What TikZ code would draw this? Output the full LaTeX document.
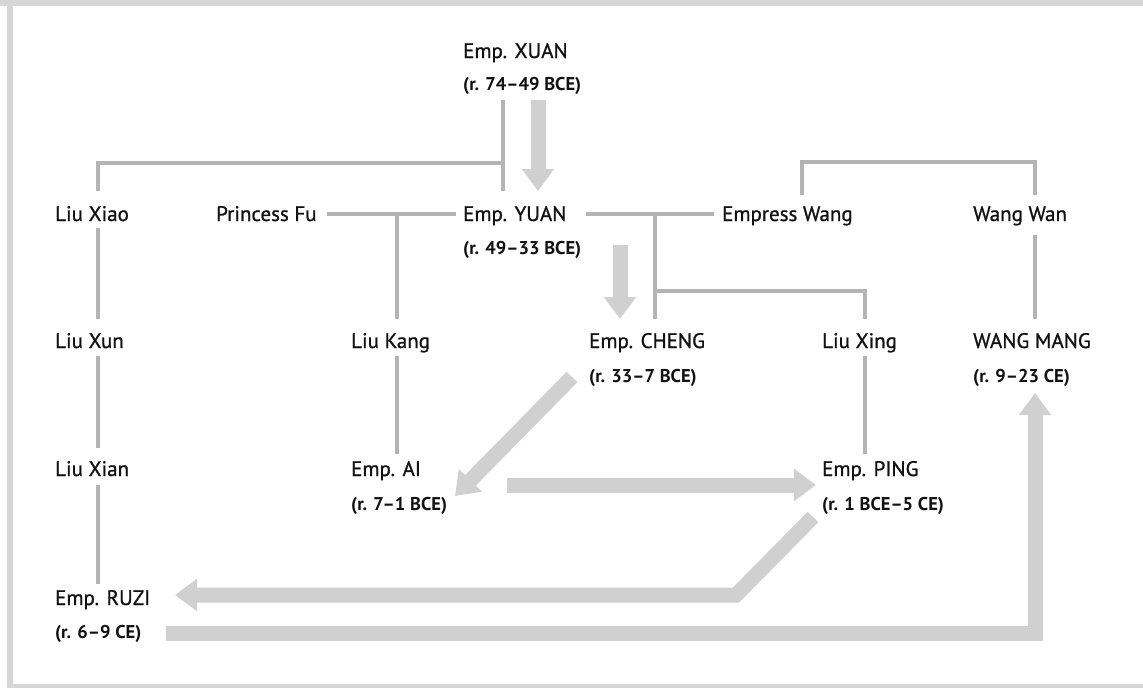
\documentclass[tikz,border=0pt]{standalone}
\usepackage{fontspec}
\setmainfont{PT Sans}
\newfontfamily\namefont{PT Sans}[FakeBold=0.9]
\newfontfamily\subfont{PT Sans Bold}
\usetikzlibrary{arrows.meta}
\definecolor{thinc}{HTML}{B4B4B4}
\definecolor{thickc}{HTML}{D0D0D0}
\definecolor{framec}{HTML}{D6D6D6}
\definecolor{txt}{HTML}{111111}
\tikzset{
  nm/.style={anchor=base west, inner sep=0pt, text=txt, font=\fontsize{21}{21}\namefont},
  sub/.style={anchor=base west, inner sep=0pt, text=txt, font=\fontsize{18.5}{18.5}\subfont},
  kin/.style={draw=thinc, line width=3.5pt},
  reign/.style={draw=thickc, line width=15pt, line join=miter, -{Triangle[width=31pt,length=22pt]}},
}
\begin{document}
\begin{tikzpicture}[x=1pt,y=-1pt]
\useasboundingbox (0,0) rectangle (1143,688);
% frame
\fill[framec] (0,0) rectangle (1143,6);
\fill[framec] (7,0) rectangle (13,688);
\fill[framec] (7,684) rectangle (1143,688);
% names
\node[nm] (xuan) at (463,58) {Emp. XUAN};
\node[sub] (xuanr) at (463,90) {(r. 74–49 BCE)};
\node[nm] (xiao) at (55,221) {Liu Xiao};
\node[nm] (fu) at (216,221) {Princess Fu};
\node[nm] (yuan) at (463,221) {Emp. YUAN};
\node[sub] (yuanr) at (463,254) {(r. 49–33 BCE)};
\node[nm] (wang) at (722,221) {Empress Wang};
\node[nm] (wan) at (973,221) {Wang Wan};
\node[nm] (xun) at (55,348) {Liu Xun};
\node[nm] (kang) at (351,348) {Liu Kang};
\node[nm] (cheng) at (589,348) {Emp. CHENG};
\node[sub] (chengr) at (589,382) {(r. 33–7 BCE)};
\node[nm] (xing) at (822,348) {Liu Xing};
\node[nm] (mang) at (973,348) {WANG MANG};
\node[sub] (mangr) at (973,382) {(r. 9–23 CE)};
\node[nm] (xian) at (55,476) {Liu Xian};
\node[nm] (ai) at (351,476) {Emp. AI};
\node[sub] (air) at (351,510) {(r. 7–1 BCE)};
\node[nm] (ping) at (822,476) {Emp. PING};
\node[sub] (pingr) at (822,510) {(r. 1 BCE–5 CE)};
\node[nm] (ruzi) at (55,605) {Emp. RUZI};
\node[sub] (ruzir) at (55,638) {(r. 6–9 CE)};
% column coordinates
\coordinate (cA) at (98,0);
\coordinate (cB) at (397,0);
\coordinate (cC) at (503,0);
\coordinate (cD) at (655,0);
\coordinate (cE) at (865,0);
\coordinate (cF) at (802,0);
\coordinate (cG) at (1035,0);
\coordinate (jXuan) at (503,163);
\coordinate (jCheng) at (655,291);
\coordinate (jWang) at (802,162);
% kinship lines
\draw[kin] ([yshift=-10]xuanr.base -| cC) -- ([yshift=30]yuan.base -| cC);
\draw[kin] (jXuan) -| ([yshift=30]xiao.base -| cA);
\draw[kin] ([yshift=-7]xiao.base -| cA) -- ([yshift=29]xun.base -| cA);
\draw[kin] ([yshift=-8]xun.base -| cA) -- ([yshift=28]xian.base -| cA);
\draw[kin] ([yshift=-9]xian.base -| cA) -- ([yshift=21]ruzi.base -| cA);
\draw[kin] ([xshift=10,yshift=7]fu.base east) -- ([xshift=-7,yshift=7]yuan.base west);
\draw[kin] ([yshift=7]fu.base east -| cB) -- ([yshift=29]kang.base -| cB);
\draw[kin] ([yshift=-8]kang.base -| cB) -- ([yshift=22]ai.base -| cB);
\draw[kin] ([xshift=19,yshift=7]yuan.base east) -- ([xshift=-8,yshift=7]wang.base west);
\draw[kin] ([yshift=7]wang.base west -| cD) -- ([yshift=29]cheng.base -| cD);
\draw[kin] (jCheng) -| ([yshift=29]xing.base -| cE);
\draw[kin] ([yshift=-8]xing.base -| cE) -- ([yshift=22]ping.base -| cE);
\draw[kin] ([yshift=26]wang.base -| cF) -- (jWang) -| ([yshift=26]wan.base -| cG);
\draw[kin] ([yshift=-14]wan.base -| cG) -- ([yshift=29]mang.base -| cG);
% reign succession arrows
\draw[reign] ([xshift=75,yshift=-10]xuanr.base west) -- ([xshift=75,yshift=30]yuan.base west);
\draw[reign] ([xshift=157,yshift=-24]yuan.base west) -- ([xshift=31,yshift=29]cheng.base west);
\draw[reign] ([xshift=-17,yshift=5]chengr.base west) -- ([xshift=104,yshift=14]air.base west);
\draw[reign] ([xshift=156,yshift=-9]ai.base west) -- ([xshift=-6,yshift=-9]ping.base west);
\coordinate (bendP) at (736,595);
\draw[reign] ([xshift=-9,yshift=-7]pingr.base west) -- (bendP) -- ([xshift=120,yshift=10]ruzi.base west);
\coordinate (bendR) at (1035,633);
\draw[reign] ([xshift=111,yshift=5]ruzir.base west) -- (bendR) -- ([yshift=-11]mangr.base -| cG);
\end{tikzpicture}
\end{document}
